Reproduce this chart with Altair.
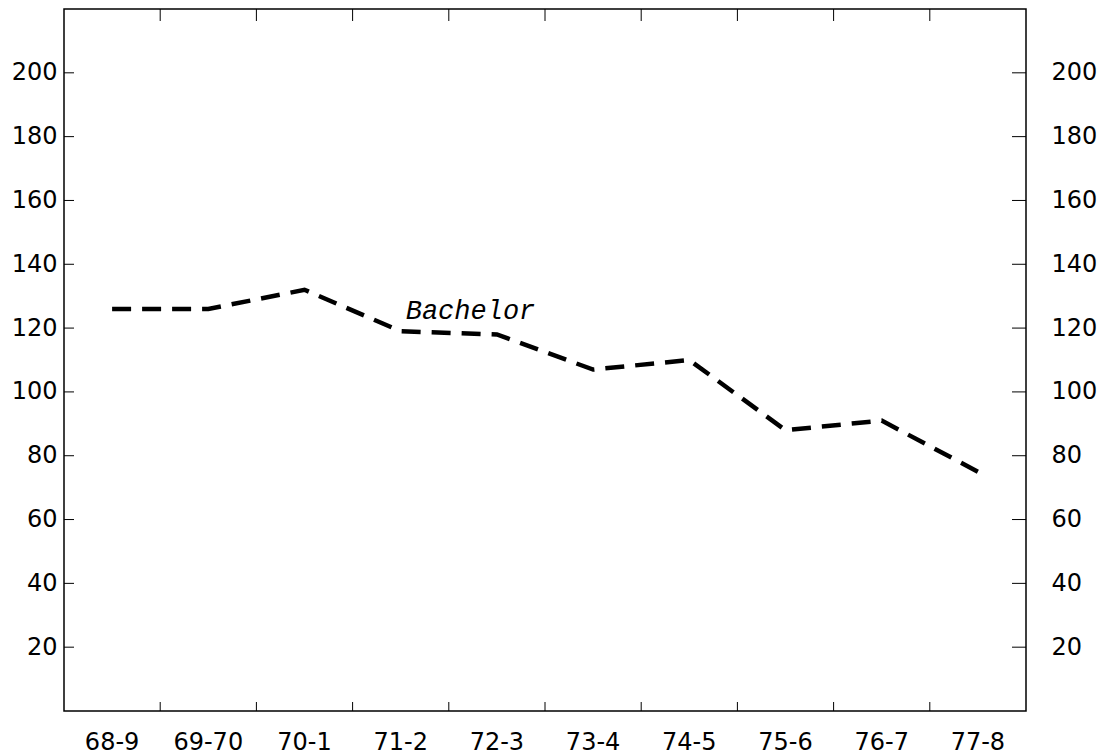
import altair as alt
import pandas as pd

years = ["68-9", "69-70", "70-1", "71-2", "72-3", "73-4", "74-5", "75-6", "76-7", "77-8"]
bachelor = [126, 126, 132, 119, 118, 107, 110, 88, 91, 75]
y_ticks = [20, 40, 60, 80, 100, 120, 140, 160, 180, 200]
x_boundaries = years[1:]  # tick marks sit at the start of these bands
label_text = ["Bachelor"]
label_year = ["71-2"]
label_value = [123]

W, H = 962, 702

line_df = pd.DataFrame({"year": years, "value": bachelor})
text_df = pd.DataFrame({"year": label_year, "value": label_value, "label": label_text})
ytick_df = pd.DataFrame({"value": y_ticks})
xtick_df = pd.DataFrame({"year": x_boundaries})

x_scale = alt.Scale(type="band", domain=years, paddingInner=0, paddingOuter=0)
y_scale = alt.Scale(domain=[0, 220], nice=False, zero=True)

FONT = "DejaVu Sans"

line = alt.Chart(line_df).mark_line(
    color="black", strokeWidth=4.5, strokeDash=[19, 11]
).encode(
    x=alt.X("year:N", scale=x_scale, bandPosition=0.5, sort=years,
            axis=alt.Axis(orient="bottom", title=None, labelAngle=0, domain=False,
                          grid=False, ticks=False, tickSize=0, labelPadding=19,
                          labelFont=FONT, labelFontSize=24, labelColor="black")),
    y=alt.Y("value:Q", scale=y_scale,
            axis=alt.Axis(orient="left", title=None, values=y_ticks, domain=False,
                          grid=False, ticks=False, tickSize=0, labelPadding=7,
                          labelFont=FONT, labelFontSize=24, labelColor="black")),
)

text = alt.Chart(text_df).mark_text(
    font="Liberation Mono", fontStyle="italic", fontSize=27, align="left",
    baseline="alphabetic", dx=5, color="black"
).encode(
    x=alt.X("year:N", scale=x_scale, bandPosition=0.5, sort=years, axis=None),
    y=alt.Y("value:Q", scale=y_scale,
            axis=alt.Axis(orient="right", title=None, values=y_ticks, domain=False,
                          grid=False, ticks=False, tickSize=0, labelPadding=25,
                          labelFont=FONT, labelFontSize=24, labelColor="black")),
    text="label:N",
)

tick_style = dict(color="black", strokeWidth=1)

left_ticks = alt.Chart(ytick_df).mark_rule(**tick_style).encode(
    y=alt.Y("value:Q", scale=y_scale, axis=None), x=alt.value(0), x2=alt.value(10))
right_ticks = alt.Chart(ytick_df).mark_rule(**tick_style).encode(
    y=alt.Y("value:Q", scale=y_scale, axis=None), x=alt.value(W - 14), x2=alt.value(W))
bottom_ticks = alt.Chart(xtick_df).mark_rule(**tick_style).encode(
    x=alt.X("year:N", scale=x_scale, bandPosition=0, sort=years, axis=None),
    y=alt.value(H - 9), y2=alt.value(H))
top_ticks = alt.Chart(xtick_df).mark_rule(**tick_style).encode(
    x=alt.X("year:N", scale=x_scale, bandPosition=0, sort=years, axis=None),
    y=alt.value(0), y2=alt.value(12))

chart = alt.layer(
    line, text, left_ticks, right_ticks, bottom_ticks, top_ticks
).resolve_axis(
    x="independent", y="independent"
).properties(
    width=W, height=H, background="white",
    padding={"left": 3, "top": 0, "right": 5, "bottom": 0}
).configure_view(
    stroke="black", strokeWidth=1.5
)

chart.save("out.html", embed_options={"renderer": "svg", "actions": False})
